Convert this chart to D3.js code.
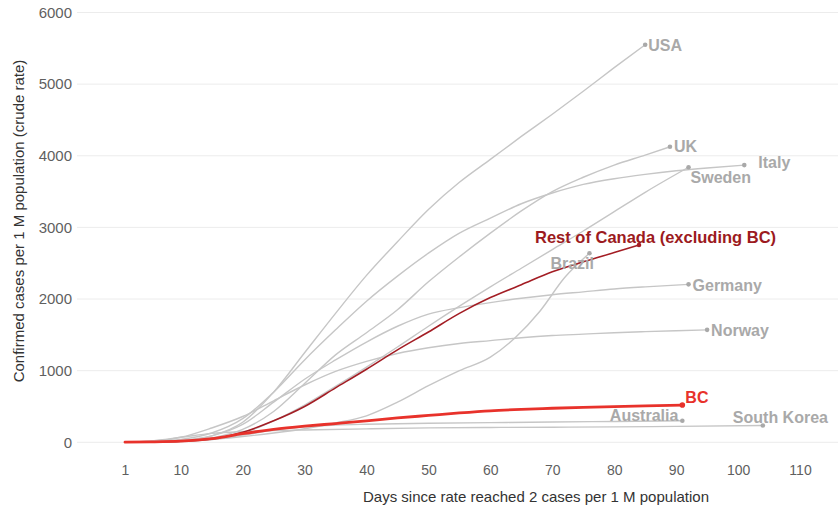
<!DOCTYPE html>
<html><head><meta charset="utf-8">
<script src="https://cdn.jsdelivr.net/npm/d3@7"></script>
<style>
html,body{margin:0;padding:0;background:#fff;}
svg{display:block;font-family:"Liberation Sans",Arial,Helvetica,sans-serif;}
</style>
</head><body>
<svg id="chart" width="838" height="513"></svg>
<script>
// ---------- data ----------
const xTicks = [1, 10, 20, 30, 40, 50, 60, 70, 80, 90, 100, 110];
const yTicks = [0, 1000, 2000, 3000, 4000, 5000, 6000];

const usaDays   = [1,5,10,15,20,25,30,35,40,45,50,55,60,65,70,75,80,85];
const usaCases  = [2,8,25,90,280,700,1250,1800,2330,2800,3250,3630,3950,4270,4580,4900,5230,5550];

const ukDays    = [1,5,10,15,20,25,30,35,40,45,50,55,60,65,70,75,80,85,89];
const ukCases   = [2,5,15,60,180,430,820,1220,1530,1850,2240,2590,2920,3230,3500,3700,3870,4010,4125];

const italyDays  = [1,5,10,15,20,25,30,35,40,45,50,55,60,65,70,75,80,85,90,95,101];
const italyCases = [2,10,40,130,330,700,1150,1570,1970,2320,2640,2920,3130,3330,3480,3600,3680,3740,3790,3830,3870];

const swedenDays  = [1,5,10,15,20,25,30,35,40,45,50,55,60,65,70,75,80,85,92];
const swedenCases = [2,5,20,50,130,300,520,780,1050,1330,1620,1900,2170,2430,2690,2950,3220,3490,3840];

const rocDays   = [1,5,10,15,20,25,30,35,40,45,50,55,60,65,70,75,80,84];
const rocCases  = [2,5,15,45,140,300,500,760,1020,1290,1540,1800,2020,2200,2380,2520,2650,2755];

const brazilDays  = [1,5,10,15,20,25,30,35,40,45,50,55,60,64,68,72,76];
const brazilCases = [2,5,15,40,80,130,190,270,370,560,790,1000,1190,1460,1830,2300,2640];

const germanyDays  = [1,5,10,15,20,25,30,35,40,45,50,55,60,65,70,75,80,85,92];
const germanyCases = [2,5,25,90,250,560,880,1150,1400,1620,1790,1880,1950,2010,2060,2100,2140,2170,2205];

const norwayDays  = [1,5,10,15,20,25,30,35,40,45,50,55,60,65,70,75,80,85,90,95];
const norwayCases = [2,10,70,200,360,580,800,990,1130,1240,1320,1380,1420,1460,1490,1510,1530,1545,1558,1570];

const bcDays    = [1,5,10,15,20,25,30,35,40,45,50,55,60,65,70,75,80,85,91];
const bcCases   = [2,5,15,50,120,180,225,262,300,340,375,410,440,460,475,488,498,508,520];

const australiaDays  = [1,5,10,15,20,25,30,35,40,50,60,70,80,91];
const australiaCases = [2,5,12,40,100,170,215,240,252,265,275,283,291,300];

const koreaDays  = [1,5,10,15,20,25,30,40,50,60,70,80,90,104];
const koreaCases = [2,20,70,125,150,163,172,188,201,207,211,215,222,235];

const series = [
  {name:"USA", days:usaDays, cases:usaCases, kind:"grey"},
  {name:"UK", days:ukDays, cases:ukCases, kind:"grey"},
  {name:"Italy", days:italyDays, cases:italyCases, kind:"grey"},
  {name:"Sweden", days:swedenDays, cases:swedenCases, kind:"grey"},
  {name:"Brazil", days:brazilDays, cases:brazilCases, kind:"grey"},
  {name:"Germany", days:germanyDays, cases:germanyCases, kind:"grey"},
  {name:"Norway", days:norwayDays, cases:norwayCases, kind:"grey"},
  {name:"Australia", days:australiaDays, cases:australiaCases, kind:"grey"},
  {name:"South Korea", days:koreaDays, cases:koreaCases, kind:"grey"},
  {name:"Rest of Canada (excluding BC)", days:rocDays, cases:rocCases, kind:"roc"},
  {name:"BC", days:bcDays, cases:bcCases, kind:"bc"}
];

// ---------- layout / style ----------
const labelLayout = {
  "USA": {dx:3, dy:1, anchor:"start"},
  "UK": {dx:4, dy:0, anchor:"start"},
  "Italy": {dx:14, dy:-3, anchor:"start"},
  "Sweden": {dx:2, dy:10, anchor:"start"},
  "Brazil": {dx:-39, dy:10, anchor:"start"},
  "Germany": {dx:4, dy:1, anchor:"start"},
  "Norway": {dx:4, dy:1, anchor:"start"},
  "Australia": {dx:-4, dy:-5, anchor:"end"},
  "South Korea": {dx:-30, dy:-8, anchor:"start"},
  "Rest of Canada (excluding BC)": {dx:-104, dy:-8, anchor:"start"},
  "BC": {dx:3, dy:-8, anchor:"start"}
};
const style = {
  grey: {stroke:"#c6c6c6", width:1.4, text:"#a9a9a9", dot:"#a9a9a9", font:16},
  roc:  {stroke:"#a31d24", width:1.6, text:"#9c1a20", dot:"#a31d24", font:16.5},
  bc:   {stroke:"#e8322b", width:2.8, text:"#e8322b", dot:"#e8322b", font:16}
};

const svg = d3.select("#chart");
const x = d3.scaleLinear().domain([1, 110]).range([125, 800]);
const y = d3.scaleLinear().domain([0, 6000]).range([442.3, 12.5]);

// gridlines
svg.append("g").selectAll("line").data(yTicks).join("line")
  .attr("x1", 77).attr("x2", 838)
  .attr("y1", d => y(d)).attr("y2", d => y(d))
  .attr("stroke", "#ececec").attr("stroke-width", 1);

// y axis labels
const yAxis = svg.append("g").attr("transform", "translate(72,0)")
  .call(d3.axisLeft(y).tickValues(yTicks).tickSize(0).tickPadding(0).tickFormat(d3.format("d")));
yAxis.select(".domain").remove();
yAxis.selectAll("text").attr("font-size", 15).attr("fill", "#5f5f5f")
  .attr("font-family", "Liberation Sans, Arial, sans-serif");

// x axis labels
const xAxis = svg.append("g").attr("transform", "translate(0,465)")
  .call(d3.axisBottom(x).tickValues(xTicks).tickSize(0).tickPadding(0).tickFormat(d3.format("d")));
xAxis.select(".domain").remove();
xAxis.selectAll("text").attr("font-size", 14).attr("fill", "#5f5f5f")
  .attr("font-family", "Liberation Sans, Arial, sans-serif");

// axis titles
svg.append("text").attr("x", 536).attr("y", 502).attr("text-anchor", "middle")
  .attr("font-size", 15).attr("fill", "#333")
  .text("Days since rate reached 2 cases per 1 M population");
svg.append("text").attr("transform", "translate(24,221) rotate(-90)").attr("text-anchor", "middle")
  .attr("font-size", 15).attr("fill", "#333")
  .text("Confirmed cases per 1 M population (crude rate)");

const line = d3.line().x(d => x(d[0])).y(d => y(d[1])).curve(d3.curveMonotoneX);

const g = svg.append("g");
series.forEach(s => {
  const st = style[s.kind];
  const pts = s.days.map((d, i) => [d, s.cases[i]]);
  g.append("path").datum(pts).attr("d", line)
    .attr("fill", "none").attr("stroke", st.stroke).attr("stroke-width", st.width)
    .attr("stroke-linejoin", "round").attr("stroke-linecap", "round");
  const last = pts[pts.length - 1];
  g.append("circle").attr("cx", x(last[0])).attr("cy", y(last[1]))
    .attr("r", s.kind === "bc" ? 2.8 : 2.3).attr("fill", st.dot);
});
series.forEach(s => {
  const st = style[s.kind];
  const lay = labelLayout[s.name];
  const lastD = s.days[s.days.length - 1], lastV = s.cases[s.cases.length - 1];
  svg.append("text").attr("x", x(lastD) + lay.dx).attr("y", y(lastV) + lay.dy)
    .attr("dy", "0.35em").attr("text-anchor", lay.anchor)
    .attr("font-size", st.font).attr("font-weight", "bold").attr("fill", st.text)
    .text(s.name);
});
</script>
</body></html>
